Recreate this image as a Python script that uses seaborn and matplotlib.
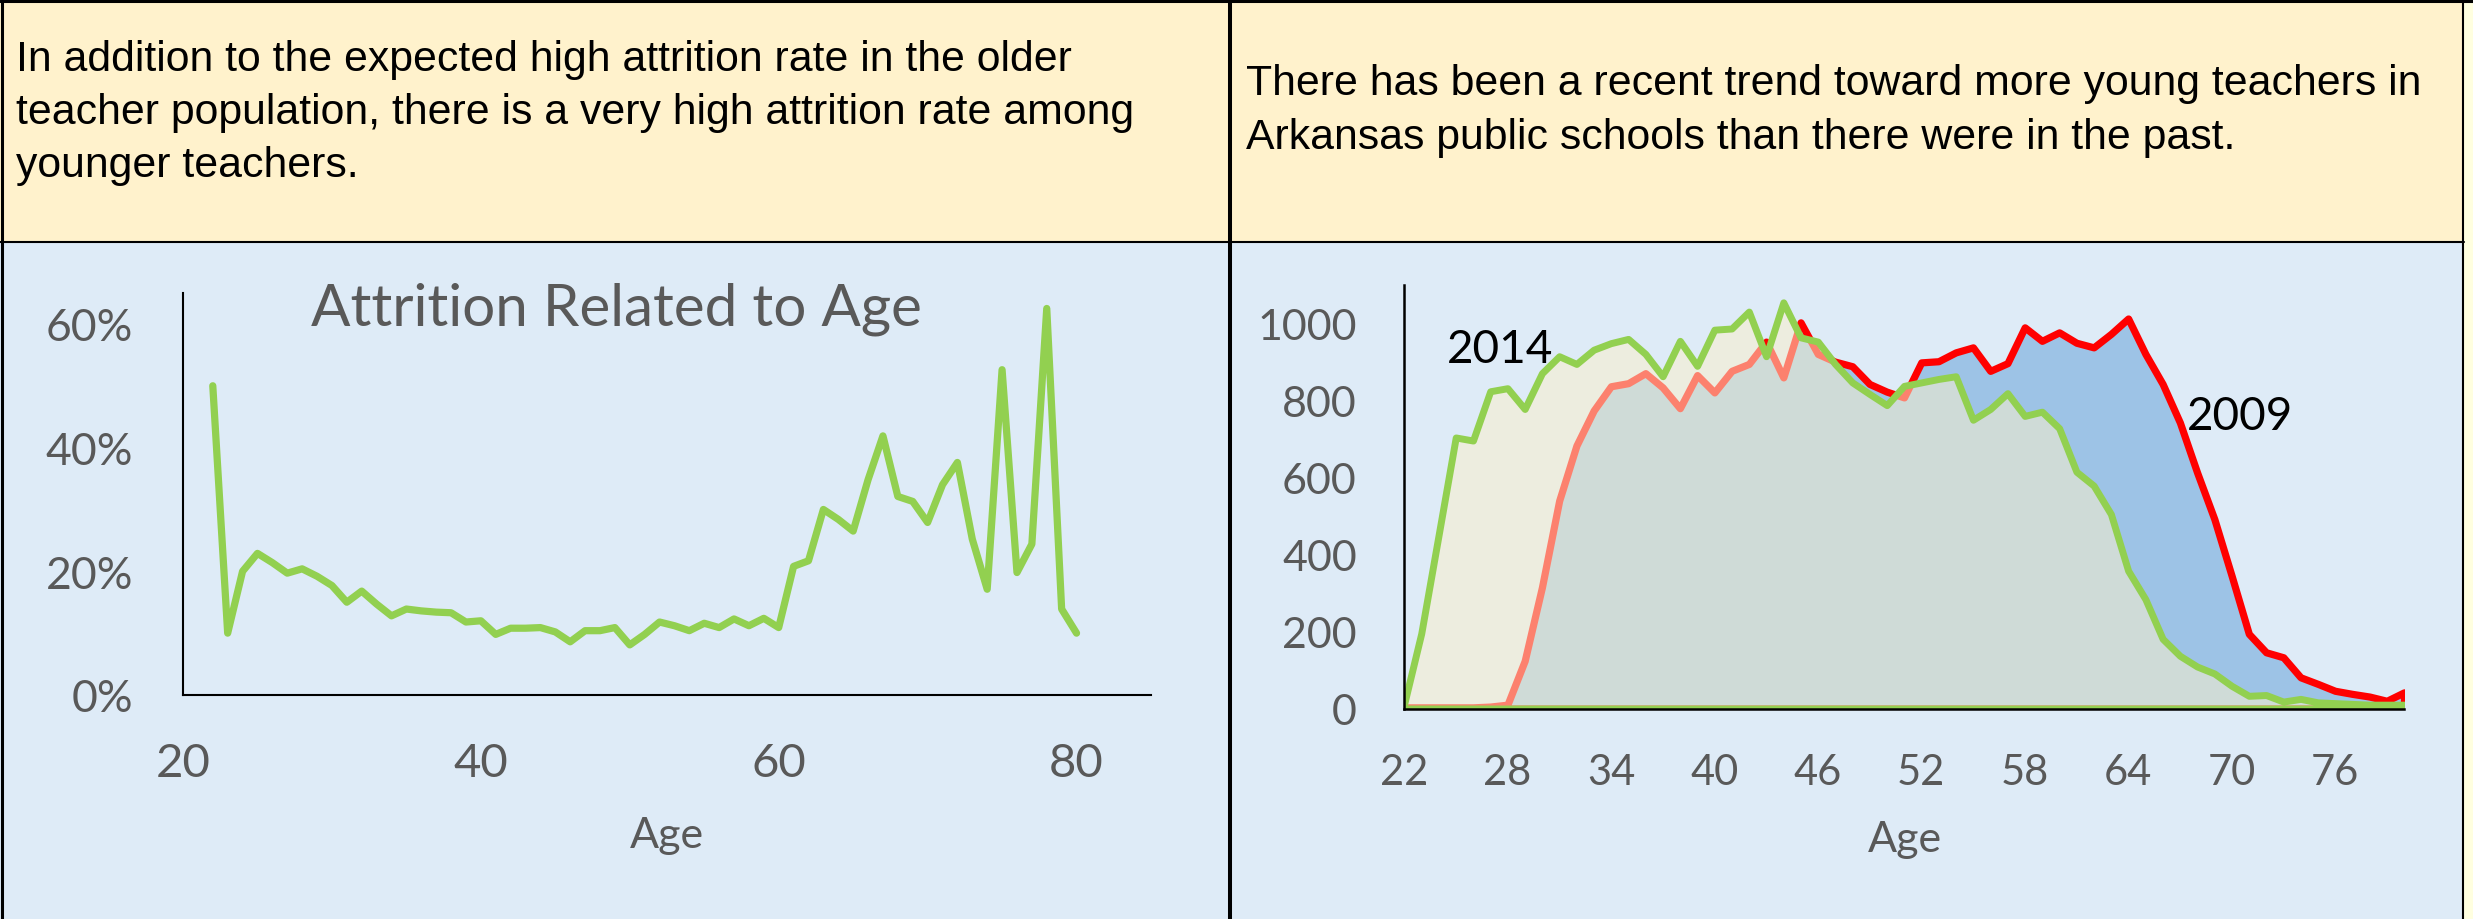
import matplotlib
matplotlib.use("Agg")
import matplotlib.pyplot as plt
import seaborn as sns
from matplotlib.patches import Rectangle
from matplotlib.lines import Line2D
from matplotlib.ticker import PercentFormatter

# --- Data: attrition by age (percent) ---
attr_ages = list(range(22, 81))
attrition_pct = [50.0, 10.0, 20.0, 22.9, 21.4, 19.7, 20.4, 19.2, 17.7, 15.0,
                 16.8, 14.7, 12.8, 13.9, 13.6, 13.4, 13.3, 11.8, 12.0, 9.8,
                 10.8, 10.8, 10.9, 10.2, 8.6, 10.4, 10.4, 10.9, 8.1, 9.8,
                 11.8, 11.2, 10.4, 11.6, 10.9, 12.3, 11.2, 12.4, 10.9, 20.8,
                 21.7, 30.0, 28.4, 26.5, 34.8, 41.9, 32.1, 31.3, 27.9, 34.0,
                 37.6, 25.2, 17.1, 52.6, 19.8, 24.4, 62.5, 13.9, 10.0]

# --- Data: teacher counts by age ---
count_ages = list(range(22, 81))
teachers_2009 = [3, 3, 3, 3, 3, 5, 10, 124, 315, 540,
                 683, 774, 837, 845, 871, 834, 780, 866, 821, 877,
                 895, 953, 860, 1003, 921, 901, 889, 843, 823, 808,
                 899, 902, 925, 938, 877, 897, 990, 955, 977, 950,
                 938, 973, 1013, 921, 843, 743, 613, 492, 345, 194,
                 146, 133, 81, 64, 46, 38, 31, 20, 42]
teachers_2014 = [10, 195, 449, 704, 696, 824, 832, 778, 871, 915,
                 895, 932, 949, 960, 921, 863, 955, 890, 984, 987,
                 1031, 915, 1055, 964, 953, 895, 847, 817, 788, 838,
                 847, 856, 863, 750, 778, 819, 760, 771, 728, 615,
                 579, 505, 358, 284, 181, 137, 109, 91, 59, 33,
                 35, 18, 25, 16, 14, 12, 10, 10, 10]

left_note = ("In addition to the expected high attrition rate in the older\n"
             "teacher population, there is a very high attrition rate among\n"
             "younger teachers.")
right_note = ("There has been a recent trend toward more young teachers in\n"
              "Arkansas public schools than there were in the past.")

# --- Colours ---
GREEN = "#92D050"
RED = "#FF0000"
BLUE_FILL = "#9DC3E6"
CREAM = (0.98, 0.94, 0.80, 0.54)
GRAY = "#595959"
PANEL_BG = "#DEEBF7"
NOTE_BG = "#FFF2CC"

sns.set_style("white")
plt.rcParams['font.family'] = ['Lato', 'DejaVu Sans']

W, H = 2473, 920
fig = plt.figure(figsize=(W / 100, H / 100), dpi=100)
fig.patch.set_facecolor(PANEL_BG)

# --- Panel backgrounds and frame ---
fig.patches.append(Rectangle((0, 1 - 242 / H), 1, 242 / H, transform=fig.transFigure,
                             facecolor=NOTE_BG, edgecolor='none', zorder=0))
fig.patches.append(Rectangle((2464 / W, 0), 9 / W, 1, transform=fig.transFigure,
                             facecolor='#FFFFE0', edgecolor='none', zorder=0))
frame = [([0, 1], [1 - 1.5 / H] * 2, 2.2),
         ([1.5 / W] * 2, [0, 1], 2.2),
         ([1230 / W] * 2, [0, 1], 2.9),
         ([0, 2464 / W], [1 - 242.5 / H] * 2, 1.5),
         ([2463 / W] * 2, [0, 1], 1.5)]
for xs, ys, lw in frame:
    fig.lines.append(Line2D(xs, ys, transform=fig.transFigure, color='black', linewidth=lw))

fig.text(16 / W, 1 - 113 / H, left_note, ha='left', va='center', fontsize=30.8,
         family=['Liberation Sans'], linespacing=1.43, color='black')
fig.text(1246 / W, 1 - 111 / H, right_note, ha='left', va='center', fontsize=30.8,
         family=['Liberation Sans'], linespacing=1.43, color='black')

# --- Left chart: attrition ---
ax1 = fig.add_axes([183 / W, 1 - 696 / H, (1151 - 183) / W, (696 - 294) / H])
ax1.set_facecolor('none')
sns.lineplot(x=attr_ages, y=attrition_pct, ax=ax1, color=GREEN, linewidth=5.2)
ax1.set_xlim(20, 85)
ax1.set_ylim(0, 65)
ax1.set_xticks([20, 40, 60, 80])
ax1.set_yticks([0, 20, 40, 60])
ax1.yaxis.set_major_formatter(PercentFormatter(xmax=100, decimals=0))
for s in ['top', 'right']:
    ax1.spines[s].set_visible(False)
for s in ['left', 'bottom']:
    ax1.spines[s].set_color('black')
    ax1.spines[s].set_linewidth(1.5)
ax1.tick_params(axis='both', direction='in', length=12, width=1.5, color='black',
                labelcolor=GRAY)
ax1.tick_params(axis='y', pad=36, labelsize=32)
ax1.tick_params(axis='x', pad=34, labelsize=34)
ax1.set_xlabel('Age', fontsize=31, color=GRAY, va='center')
ax1.xaxis.set_label_coords(0.5, -0.348)
fig.text(616 / W, 1 - 309 / H, 'Attrition Related to Age', ha='center', va='center',
         fontsize=42, color=GRAY)

# --- Right chart: teachers by age, 2009 vs 2014 ---
ax2 = fig.add_axes([1404 / W, 1 - 709.5 / H, 1000 / W, (709.5 - 286) / H])
ax2.set_facecolor('none')
ax2.fill_between(count_ages, teachers_2009, 0, facecolor=BLUE_FILL, edgecolor=RED,
                 linewidth=5.2, zorder=2)
ax2.fill_between(count_ages, teachers_2014, 0, facecolor=CREAM, edgecolor=GREEN,
                 linewidth=5, zorder=3)
ax2.set_xlim(22, 80)
ax2.set_ylim(0, 1100)
xt = list(range(22, 80, 3))
ax2.set_xticks(xt)
ax2.set_xticklabels([str(a) if (a - 22) % 6 == 0 else '' for a in xt])
ax2.set_yticks(range(0, 1001, 200))
for s in ['top', 'right']:
    ax2.spines[s].set_visible(False)
for s in ['left', 'bottom']:
    ax2.spines[s].set_color('black')
    ax2.spines[s].set_linewidth(1.8)
    ax2.spines[s].set_zorder(4)
ax2.tick_params(axis='y', direction='in', length=11, width=1.5, color='black',
                labelcolor=GRAY, labelsize=31, pad=34)
ax2.tick_params(axis='x', direction='in', length=8, width=1.5, color='black',
                labelcolor=GRAY, labelsize=30, pad=32)
ax2.set_xlabel('Age', fontsize=31, color=GRAY, va='center')
ax2.xaxis.set_label_coords(0.501, -0.308)
ax2.text(27.6, 934, '2014', ha='center', va='center', fontsize=33, color='black', zorder=5)
ax2.text(70.5, 760, '2009', ha='center', va='center', fontsize=33, color='black', zorder=5)

fig.savefig('out.png', dpi=100)
